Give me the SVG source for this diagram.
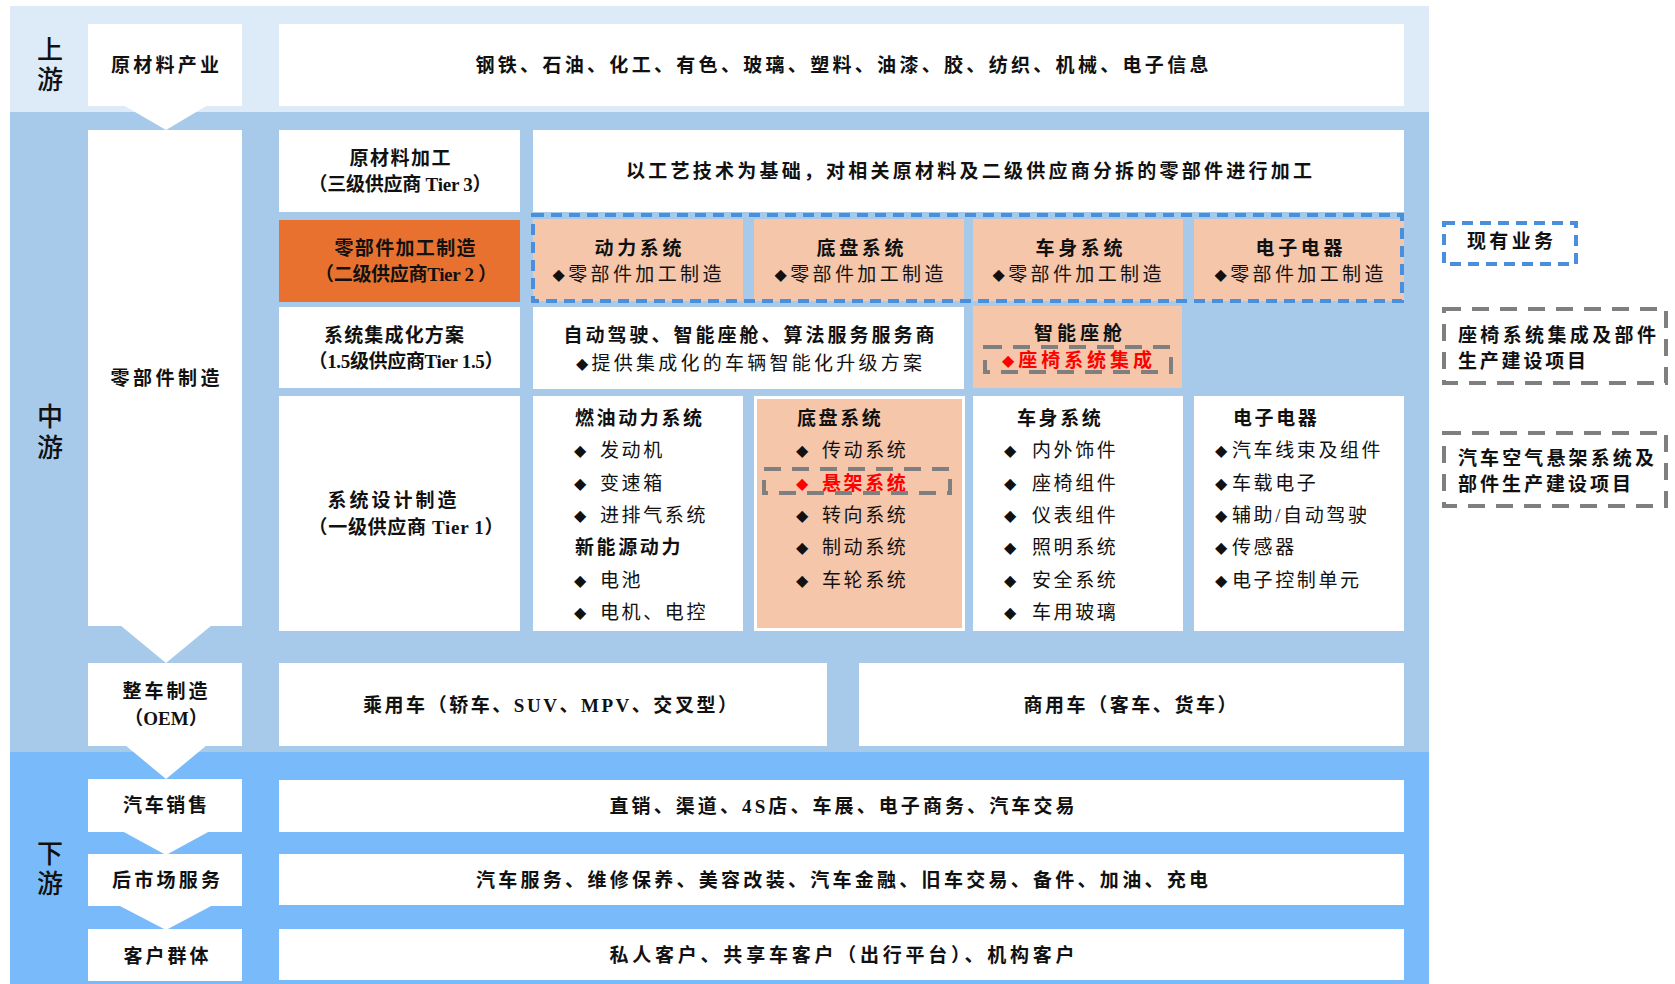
<svg xmlns="http://www.w3.org/2000/svg" width="1675" height="984" viewBox="0 0 1675 984">
<defs>
<style>
text{font-family:"Liberation Serif","Noto Sans CJK SC",serif;dominant-baseline:central;fill:#111;}
.b{font-weight:700;font-size:19px}
.r{font-weight:400;font-size:19px}
.side{font-size:26px;font-weight:500;text-anchor:middle}
.c{text-anchor:middle}
.li{letter-spacing:2.6px}
.dm{font-family:"DejaVu Sans",sans-serif;font-size:16px;font-weight:400}
.red{fill:#FF0000}
.w{fill:#FFFFFF}
.pe{fill:#F5C6AA}
.or{fill:#E8712F}
.dashB{fill:none;stroke:#4A8FDB;stroke-width:4;stroke-dasharray:11 7}
.dashG{fill:none;stroke:#7F7F7F;stroke-width:4;stroke-dasharray:17 11}
.arr{fill:#FFFFFF}
</style>
</defs>
<rect x="0" y="0" width="1675" height="984" fill="#FFFFFF"/>

<g id="bands">
<rect x="10" y="6" width="1419" height="106" fill="#DDEAF7"/>
<rect x="10" y="112" width="1419" height="640" fill="#A7CAEB"/>
<rect x="10" y="752" width="1419" height="232" fill="#79BBFA"/>
<text class="side" x="50" y="50">上</text>
<text class="side" x="50" y="80">游</text>
<text class="side" x="50" y="417">中</text>
<text class="side" x="50" y="448">游</text>
<text class="side" x="50" y="854">下</text>
<text class="side" x="50" y="884">游</text>
</g>

<g id="connectors">
<polygon class="arr" points="123,105 208,105 166,130"/>
<polygon class="arr" points="120,625 212,625 166,663"/>
<polygon class="arr" points="125,745 207,745 166,779"/>
<polygon class="arr" points="122,831 210,831 166,855"/>
<polygon class="arr" points="118,905 213,905 166,930"/>
</g>

<g id="n-raw-industry">
<rect class="w" x="88" y="24" width="154" height="82"/>
<text class="b c" x="165" y="65" textLength="108" lengthAdjust="spacing">原材料产业</text>
</g>
<g id="n-raw-materials">
<rect class="w" x="279" y="24" width="1125" height="82"/>
<text class="b c" x="842" y="65" textLength="733" lengthAdjust="spacing">钢铁、石油、化工、有色、玻璃、塑料、油漆、胶、纺织、机械、电子信息</text>
</g>

<g id="n-parts-mfg">
<rect class="w" x="88" y="130" width="154" height="496"/>
<text class="b c" x="165" y="378" textLength="109" lengthAdjust="spacing">零部件制造</text>
</g>

<g id="n-tier3">
<rect class="w" x="279" y="130" width="241" height="82"/>
<text class="b c" x="400" y="158" textLength="101" lengthAdjust="spacing">原材料加工</text>
<text class="b c" x="400" y="184" textLength="183" lengthAdjust="spacing">（三级供应商 Tier 3）</text>
</g>
<g id="n-tier3-desc">
<rect class="w" x="533" y="130" width="871" height="82"/>
<text class="b c" x="969" y="171" textLength="686" lengthAdjust="spacing">以工艺技术为基础，对相关原材料及二级供应商分拆的零部件进行加工</text>
</g>

<g id="n-tier2">
<rect class="or" x="279" y="220" width="241" height="82"/>
<text class="b c" x="405" y="248" textLength="141" lengthAdjust="spacing">零部件加工制造</text>
<text class="b c" x="406" y="274" textLength="182" lengthAdjust="spacing">（二级供应商Tier 2 ）</text>
</g>
<g id="n-power">
<rect class="pe" x="533" y="219" width="210" height="82"/>
<text class="b c" x="638" y="248" textLength="87" lengthAdjust="spacing">动力系统</text>
<text class="r c" x="637" y="274" textLength="169" lengthAdjust="spacing"><tspan class="dm">◆</tspan>零部件加工制造</text>
</g>
<g id="n-chassis">
<rect class="pe" x="754" y="219" width="210" height="82"/>
<text class="b c" x="860" y="248" textLength="87" lengthAdjust="spacing">底盘系统</text>
<text class="r c" x="859" y="274" textLength="169" lengthAdjust="spacing"><tspan class="dm">◆</tspan>零部件加工制造</text>
</g>
<g id="n-body">
<rect class="pe" x="973" y="219" width="210" height="82"/>
<text class="b c" x="1079" y="248" textLength="87" lengthAdjust="spacing">车身系统</text>
<text class="r c" x="1077" y="274" textLength="169" lengthAdjust="spacing"><tspan class="dm">◆</tspan>零部件加工制造</text>
</g>
<g id="n-elec">
<rect class="pe" x="1194" y="219" width="210" height="82"/>
<text class="b c" x="1299" y="248" textLength="87" lengthAdjust="spacing">电子电器</text>
<text class="r c" x="1299" y="274" textLength="169" lengthAdjust="spacing"><tspan class="dm">◆</tspan>零部件加工制造</text>
</g>
<g id="g-existing-frame">
<rect class="dashB" x="533" y="215" width="869" height="86"/>
</g>

<g id="n-tier15">
<rect class="w" x="279" y="307" width="241" height="81"/>
<text class="b c" x="394" y="335" textLength="140" lengthAdjust="spacing">系统集成化方案</text>
<text class="b c" x="406" y="361" textLength="195" lengthAdjust="spacing">（1.5级供应商Tier 1.5）</text>
</g>
<g id="n-smart">
<rect class="w" x="533" y="307" width="431" height="82"/>
<text class="b c" x="749" y="335" textLength="371" lengthAdjust="spacing">自动驾驶、智能座舱、算法服务服务商</text>
<text class="r c" x="749" y="363" textLength="346" lengthAdjust="spacing"><tspan class="dm">◆</tspan>提供集成化的车辆智能化升级方案</text>
</g>
<g id="n-cockpit">
<rect class="pe" x="973" y="306" width="209" height="82"/>
<text class="b c" x="1078" y="333" textLength="88" lengthAdjust="spacing">智能座舱</text>
<text class="b c red" x="1077" y="360" textLength="150" lengthAdjust="spacing"><tspan class="dm red">◆</tspan>座椅系统集成</text>
<rect class="dashG" x="985" y="347" width="186" height="25"/>
</g>

<g id="n-tier1">
<rect class="w" x="279" y="396" width="241" height="235"/>
<text class="b c" x="392" y="500" textLength="129" lengthAdjust="spacing">系统设计制造</text>
<text class="b c" x="406" y="527" textLength="195" lengthAdjust="spacing">（一级供应商 Tier 1）</text>
</g>

<g id="n-power-list">
<rect class="w" x="533" y="396" width="210" height="235"/>
<text class="b li" x="575" y="418">燃油动力系统</text>
<text class="r" y="450"><tspan class="dm" x="574">◆</tspan><tspan class="li" x="600">发动机</tspan></text>
<text class="r" y="483"><tspan class="dm" x="574">◆</tspan><tspan class="li" x="600">变速箱</tspan></text>
<text class="r" y="515"><tspan class="dm" x="574">◆</tspan><tspan class="li" x="600">进排气系统</tspan></text>
<text class="b li" x="575" y="547">新能源动力</text>
<text class="r" y="580"><tspan class="dm" x="574">◆</tspan><tspan class="li" x="600">电池</tspan></text>
<text class="r" y="612"><tspan class="dm" x="574">◆</tspan><tspan class="li" x="600">电机、电控</tspan></text>
</g>

<g id="n-chassis-list">
<rect class="w" x="754" y="396" width="211" height="235"/>
<rect class="pe" x="757" y="399" width="205" height="229"/>
<text class="b li" x="797" y="418">底盘系统</text>
<text class="r" y="450"><tspan class="dm" x="796">◆</tspan><tspan class="li" x="822">传动系统</tspan></text>
<text class="b red" y="483"><tspan class="dm red" x="796">◆</tspan><tspan class="li" x="822">悬架系统</tspan></text>
<rect class="dashG" x="764" y="469" width="186" height="24"/>
<text class="r" y="515"><tspan class="dm" x="796">◆</tspan><tspan class="li" x="822">转向系统</tspan></text>
<text class="r" y="547"><tspan class="dm" x="796">◆</tspan><tspan class="li" x="822">制动系统</tspan></text>
<text class="r" y="580"><tspan class="dm" x="796">◆</tspan><tspan class="li" x="822">车轮系统</tspan></text>
</g>

<g id="n-body-list">
<rect class="w" x="973" y="396" width="210" height="235"/>
<text class="b li" x="1017" y="418">车身系统</text>
<text class="r" y="450"><tspan class="dm" x="1004">◆</tspan><tspan class="li" x="1032">内外饰件</tspan></text>
<text class="r" y="483"><tspan class="dm" x="1004">◆</tspan><tspan class="li" x="1032">座椅组件</tspan></text>
<text class="r" y="515"><tspan class="dm" x="1004">◆</tspan><tspan class="li" x="1032">仪表组件</tspan></text>
<text class="r" y="547"><tspan class="dm" x="1004">◆</tspan><tspan class="li" x="1032">照明系统</tspan></text>
<text class="r" y="580"><tspan class="dm" x="1004">◆</tspan><tspan class="li" x="1032">安全系统</tspan></text>
<text class="r" y="612"><tspan class="dm" x="1004">◆</tspan><tspan class="li" x="1032">车用玻璃</tspan></text>
</g>

<g id="n-elec-list">
<rect class="w" x="1194" y="396" width="210" height="235"/>
<text class="b li" x="1233" y="418">电子电器</text>
<text class="r" y="450"><tspan class="dm" x="1215">◆</tspan><tspan class="li" x="1232">汽车线束及组件</tspan></text>
<text class="r" y="483"><tspan class="dm" x="1215">◆</tspan><tspan class="li" x="1232">车载电子</tspan></text>
<text class="r" y="515"><tspan class="dm" x="1215">◆</tspan><tspan class="li" x="1232">辅助/自动驾驶</tspan></text>
<text class="r" y="547"><tspan class="dm" x="1215">◆</tspan><tspan class="li" x="1232">传感器</tspan></text>
<text class="r" y="580"><tspan class="dm" x="1215">◆</tspan><tspan class="li" x="1232">电子控制单元</tspan></text>
</g>

<g id="n-oem">
<rect class="w" x="88" y="663" width="154" height="83"/>
<text class="b c" x="165" y="691" textLength="85" lengthAdjust="spacing">整车制造</text>
<text class="b c" x="166" y="718">（OEM）</text>
</g>
<g id="n-passenger">
<rect class="w" x="279" y="663" width="548" height="83"/>
<text class="b c" x="550" y="705" textLength="374" lengthAdjust="spacing">乘用车（轿车、SUV、MPV、交叉型）</text>
</g>
<g id="n-commercial">
<rect class="w" x="859" y="663" width="545" height="83"/>
<text class="b c" x="1130" y="705" textLength="213" lengthAdjust="spacing">商用车（客车、货车）</text>
</g>

<g id="n-sales">
<rect class="w" x="88" y="779" width="154" height="53"/>
<text class="b c" x="165" y="805" textLength="84" lengthAdjust="spacing">汽车销售</text>
</g>
<g id="n-sales-desc">
<rect class="w" x="279" y="780" width="1125" height="52"/>
<text class="b c" x="842" y="806" textLength="465" lengthAdjust="spacing">直销、渠道、4S店、车展、电子商务、汽车交易</text>
</g>
<g id="n-aftermarket">
<rect class="w" x="88" y="854" width="154" height="52"/>
<text class="b c" x="166" y="880" textLength="108" lengthAdjust="spacing">后市场服务</text>
</g>
<g id="n-aftermarket-desc">
<rect class="w" x="279" y="854" width="1125" height="51"/>
<text class="b c" x="842" y="880" textLength="732" lengthAdjust="spacing">汽车服务、维修保养、美容改装、汽车金融、旧车交易、备件、加油、充电</text>
</g>
<g id="n-customers">
<rect class="w" x="88" y="929" width="154" height="52"/>
<text class="b c" x="166" y="956" textLength="85" lengthAdjust="spacing">客户群体</text>
</g>
<g id="n-customers-desc">
<rect class="w" x="279" y="929" width="1125" height="51"/>
<text class="b c" x="842" y="955" textLength="465" lengthAdjust="spacing">私人客户、共享车客户（出行平台）、机构客户</text>
</g>

<g id="legend-existing">
<rect class="dashB" x="1444" y="223" width="132" height="41"/>
<text class="b c" x="1510" y="241" textLength="86" lengthAdjust="spacing">现有业务</text>
</g>
<g id="legend-seat">
<rect class="dashG" x="1444" y="309" width="222" height="74"/>
<text class="b" x="1458" y="335" textLength="198" lengthAdjust="spacing">座椅系统集成及部件</text>
<text class="b" x="1458" y="361" textLength="128" lengthAdjust="spacing">生产建设项目</text>
</g>
<g id="legend-suspension">
<rect class="dashG" x="1444" y="433" width="222" height="73"/>
<text class="b" x="1458" y="458" textLength="196" lengthAdjust="spacing">汽车空气悬架系统及</text>
<text class="b" x="1458" y="484" textLength="173" lengthAdjust="spacing">部件生产建设项目</text>
</g>
</svg>
